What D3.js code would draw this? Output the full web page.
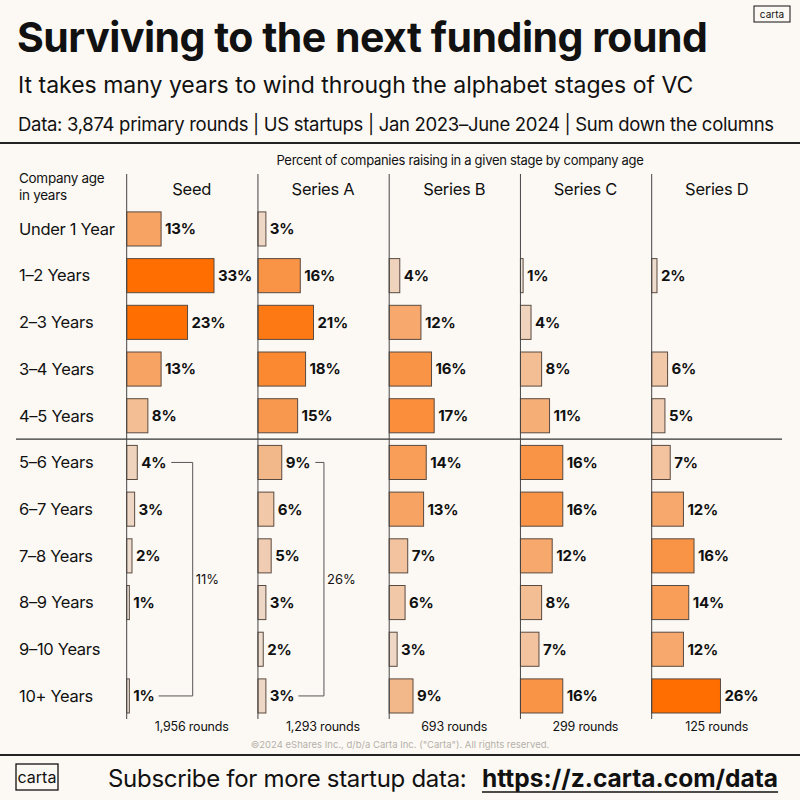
<!DOCTYPE html>
<html>
<head>
<meta charset="utf-8">
<script src="https://cdn.jsdelivr.net/npm/d3@7"></script>
<style>
  html, body { margin: 0; padding: 0; background: #fcf9f4; }
  svg { display: block; font-family: Inter, "Noto Sans", sans-serif; }
</style>
</head>
<body>
<svg id="chart"></svg>
<script>
// ---- Data ----
const ageGroups = ['Under 1 Year', '1–2 Years', '2–3 Years', '3–4 Years', '4–5 Years',
  '5–6 Years', '6–7 Years', '7–8 Years', '8–9 Years', '9–10 Years', '10+ Years'];
const stages = ['Seed', 'Series A', 'Series B', 'Series C', 'Series D'];
// percent of rounds per stage by company age (null = no bar)
const seedPct    = [13, 33, 23, 13, 8, 4, 3, 2, 1, null, 1];
const seriesAPct = [3, 16, 21, 18, 15, 9, 6, 5, 3, 2, 3];
const seriesBPct = [null, 4, 12, 16, 17, 14, 13, 7, 6, 3, 9];
const seriesCPct = [null, 1, 4, 8, 11, 16, 16, 12, 8, 7, 16];
const seriesDPct = [null, 2, null, 6, 5, 7, 12, 16, 14, 12, 26];
const roundCounts = ['1,956 rounds', '1,293 rounds', '693 rounds', '299 rounds', '125 rounds'];
// 5+ year totals bracketed on the first two columns
const bracketStages = ['Seed', 'Series A'];
const bracketTotals = ['11%', '26%'];

const seriesValues = [seedPct, seriesAPct, seriesBPct, seriesCPct, seriesDPct];

// ---- Setup ----
const W = 800, H = 800;
const svg = d3.select('#chart').attr('width', W).attr('height', H);
svg.append('rect').attr('width', W).attr('height', H).attr('fill', '#fcf9f4');

const ink = '#111';

// ---- Header ----
svg.append('text')
  .attr('x', 17).attr('y', 52)
  .attr('font-size', 41).attr('font-weight', 700)
  .attr('letter-spacing', -0.5)
  .attr('fill', ink)
  .text('Surviving to the next funding round');

svg.append('text')
  .attr('x', 18).attr('y', 93)
  .attr('font-size', 23).attr('letter-spacing', 0)
  .attr('fill', ink)
  .text('It takes many years to wind through the alphabet stages of VC');

svg.append('text')
  .attr('x', 18).attr('y', 131)
  .attr('font-size', 18.5).attr('letter-spacing', -0.3)
  .attr('fill', ink)
  .text('Data: 3,874 primary rounds | US startups | Jan 2023–June 2024 | Sum down the columns');

// small logo top right
const logoTop = svg.append('g').attr('transform', 'translate(754,6)');
logoTop.append('rect').attr('width', 36).attr('height', 16)
  .attr('fill', 'none').attr('stroke', ink).attr('stroke-width', 1);
logoTop.append('text').attr('x', 18).attr('y', 12)
  .attr('text-anchor', 'middle').attr('font-size', 10).attr('fill', ink).text('carta');

svg.append('line').attr('x1', 0).attr('x2', W).attr('y1', 143).attr('y2', 143)
  .attr('stroke', '#222').attr('stroke-width', 2);

// ---- Scales ----
const colX = d3.scalePoint().domain(stages).range([126.7, 651.7]);
const y = d3.scaleBand().domain(ageGroups).range([205.6, 719.3])
  .paddingInner(0.27).paddingOuter(0.135);
const barLen = d3.scaleLinear().domain([0, 33]).range([0, 87.3]);
const color = d3.scaleLinear().domain([0, 23]).range(['#ece8e3', '#ff6e00'])
  .interpolate(d3.interpolateRgb).clamp(true);

// ---- Axis titles ----
svg.append('text')
  .attr('x', 460).attr('y', 165)
  .attr('text-anchor', 'middle').attr('font-size', 13).attr('letter-spacing', -0.3)
  .attr('fill', ink)
  .text('Percent of companies raising in a given stage by company age');

const ageTitle = svg.append('text').attr('font-size', 13.5).attr('fill', ink)
  .attr('letter-spacing', -0.3);
ageTitle.append('tspan').attr('x', 19).attr('y', 183).text('Company age');
ageTitle.append('tspan').attr('x', 19).attr('y', 200).text('in years');

// ---- Row labels ----
svg.append('g').selectAll('text')
  .data(ageGroups)
  .join('text')
  .attr('x', 19)
  .attr('y', d => y(d) + y.bandwidth() / 2)
  .attr('dy', '0.35em')
  .attr('font-size', 16.5).attr('letter-spacing', -0.3)
  .attr('fill', ink)
  .text(d => d);

// separator between 4-5 and 5-6 years
const sepY = (y('4–5 Years') + y.bandwidth() + y('5–6 Years')) / 2;
svg.append('line').attr('x1', 16).attr('x2', 782).attr('y1', sepY).attr('y2', sepY)
  .attr('stroke', '#333').attr('stroke-width', 1.2);

// ---- Columns ----
const cols = svg.append('g').selectAll('g.col')
  .data(stages)
  .join('g')
  .attr('class', 'col')
  .attr('transform', d => `translate(${colX(d)},0)`);

cols.append('text')
  .attr('x', 65).attr('y', 195)
  .attr('text-anchor', 'middle').attr('font-size', 16.5).attr('letter-spacing', -0.3)
  .attr('fill', ink)
  .text(d => d);

cols.append('text')
  .attr('x', 65).attr('y', 731)
  .attr('text-anchor', 'middle').attr('font-size', 12.5).attr('letter-spacing', -0.2)
  .attr('fill', ink)
  .text((d, i) => roundCounts[i]);

cols.each(function (stage, si) {
  const g = d3.select(this);
  const rows = ageGroups.map((age, i) => ({ age, v: seriesValues[si][i] }))
    .filter(d => d.v != null);

  g.selectAll('rect.bar')
    .data(rows)
    .join('rect')
    .attr('class', 'bar')
    .attr('x', 0)
    .attr('y', d => y(d.age))
    .attr('width', d => barLen(d.v))
    .attr('height', y.bandwidth())
    .attr('fill', d => color(d.v))
    .attr('stroke', '#5a4a40').attr('stroke-width', 1);

  g.selectAll('text.val')
    .data(rows)
    .join('text')
    .attr('class', 'val')
    .attr('x', d => barLen(d.v) + 4)
    .attr('y', d => y(d.age) + y.bandwidth() / 2)
    .attr('dy', '0.36em')
    .attr('font-size', 15).attr('font-weight', 700).attr('letter-spacing', -0.2)
    .attr('fill', ink)
    .text(d => d.v + '%');

  // column baseline
  g.append('line')
    .attr('x1', 0).attr('x2', 0).attr('y1', 174).attr('y2', 719)
    .attr('stroke', '#444').attr('stroke-width', 1);
});

// ---- Brackets for 5+ years ----
bracketStages.forEach((stage, bi) => {
  const g = cols.filter(d => d === stage);
  const vals = g.selectAll('text.val').nodes();
  const first = ageGroups.indexOf('5–6 Years');
  const last = ageGroups.indexOf('10+ Years');
  const labelAt = idx => vals.find(n => d3.select(n).datum().age === ageGroups[idx]);
  const endX = n => +n.getAttribute('x') + n.getComputedTextLength();
  const top = labelAt(first), bot = labelAt(last);
  const yTop = y(ageGroups[first]) + y.bandwidth() / 2;
  const yBot = y(ageGroups[last]) + y.bandwidth() / 2;
  const vx = 66;
  g.append('path')
    .attr('d', `M${endX(top) + 5},${yTop}H${vx}V${yBot}H${endX(bot) + 4}`)
    .attr('fill', 'none').attr('stroke', '#555').attr('stroke-width', 1);
  g.append('text')
    .attr('x', vx + 3).attr('y', (yTop + yBot) / 2)
    .attr('dy', '0.35em')
    .attr('font-size', 13).attr('fill', ink)
    .text(bracketTotals[bi]);
});

// ---- Footer ----
svg.append('text')
  .attr('x', 400).attr('y', 748)
  .attr('text-anchor', 'middle').attr('font-size', 9.5).attr('fill', '#b5b0aa')
  .text('©2024 eShares Inc., d/b/a Carta Inc. ("Carta"). All rights reserved.');

svg.append('line').attr('x1', 0).attr('x2', W).attr('y1', 755).attr('y2', 755)
  .attr('stroke', '#222').attr('stroke-width', 2);

const logo = svg.append('g').attr('transform', 'translate(16,764)');
logo.append('rect').attr('width', 42).attr('height', 26)
  .attr('fill', 'none').attr('stroke', ink).attr('stroke-width', 1.3);
logo.append('text').attr('x', 21).attr('y', 18.5)
  .attr('text-anchor', 'middle').attr('font-size', 16).attr('fill', ink).text('carta');

svg.append('text')
  .attr('x', 108).attr('y', 787)
  .attr('font-size', 24).attr('letter-spacing', -0.3).attr('fill', ink)
  .text('Subscribe for more startup data:');

const url = svg.append('text')
  .attr('x', 482).attr('y', 787)
  .attr('font-size', 24.5).attr('font-weight', 700).attr('letter-spacing', 0)
  .attr('fill', ink)
  .text('https://z.carta.com/data');
const urlW = url.node().getComputedTextLength();
svg.append('line').attr('x1', 482).attr('x2', 482 + urlW).attr('y1', 792).attr('y2', 792)
  .attr('stroke', ink).attr('stroke-width', 1.5);
</script>
</body>
</html>
